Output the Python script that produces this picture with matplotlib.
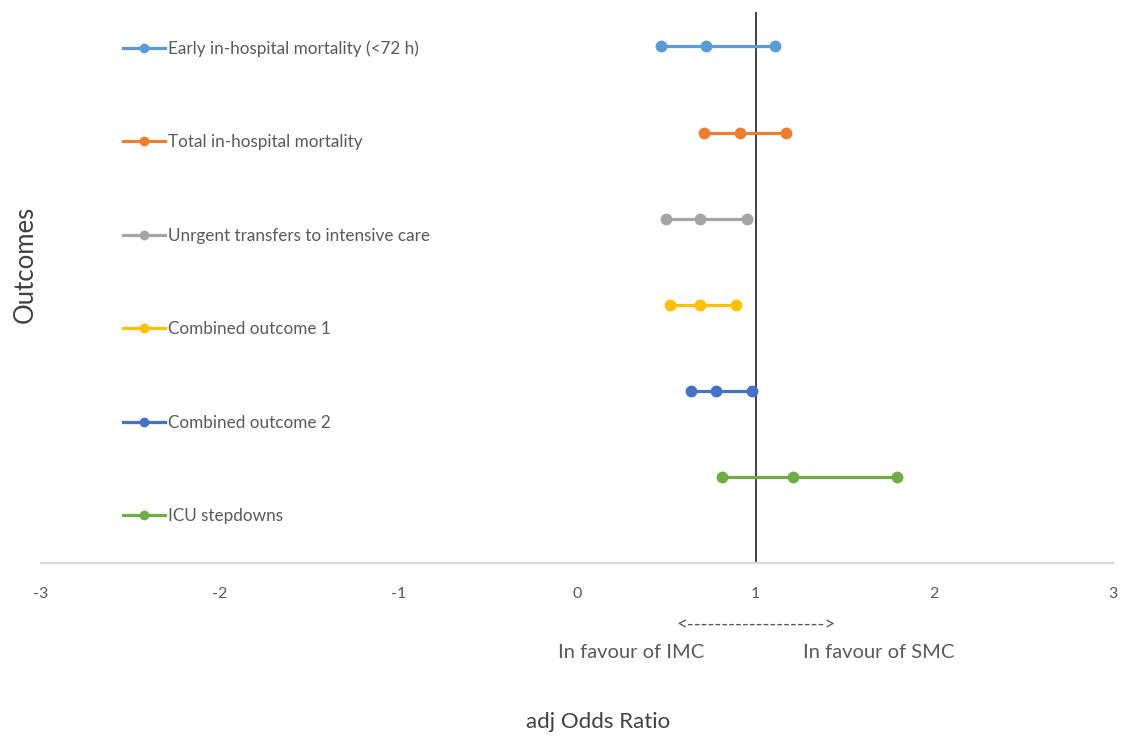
import numpy as np
import matplotlib.pyplot as plt
from matplotlib.lines import Line2D

# forest-style plot of adjusted odds ratios

outcomes = ["Early in-hospital mortality (<72 h)",
            "Total in-hospital mortality",
            "Unrgent transfers to intensive care",
            "Combined outcome 1",
            "Combined outcome 2",
            "ICU stepdowns"]
or_low = [0.47, 0.71, 0.50, 0.52, 0.64, 0.81]
or_adj = [0.72, 0.91, 0.69, 0.69, 0.78, 1.21]
or_high = [1.11, 1.17, 0.95, 0.89, 0.98, 1.79]
colors = ["#5B9BD5", "#ED7D31", "#A5A5A5", "#FFC000", "#4472C4", "#70AD47"]
xticks = [-3, -2, -1, 0, 1, 2, 3]

plt.rcParams['font.family'] = ['Lato', 'DejaVu Sans']
txt_col = "#595959"

fig = plt.figure(figsize=(11.28, 7.4), dpi=100)
ax = fig.add_axes([41/1128, 1 - 563/740, (1113-41)/1128, (563-12)/740])

rows = np.arange(len(outcomes), 0, -1)
handles = []
for i in range(len(outcomes)):
    xs = [or_low[i], or_adj[i], or_high[i]]
    ax.plot(xs, [rows[i]]*3, color=colors[i], lw=2.3, marker='o', ms=7.5,
            solid_capstyle='round', zorder=3)
    handles.append(Line2D([], [], color=colors[i], lw=2.3, marker='o', ms=6))

ax.set_xlim(-3, 3)
ax.set_ylim(0, 6.4)

# vertical axis crossing at OR = 1
ax.axvline(1, color="#404040", lw=1.4, zorder=2)

for s in ['top', 'right', 'left']:
    ax.spines[s].set_visible(False)
ax.spines['bottom'].set_color("#D9D9D9")
ax.spines['bottom'].set_linewidth(1.6)
ax.set_yticks([])
ax.set_xticks(xticks)
ax.set_xticklabels([str(t) for t in xticks])
ax.tick_params(axis='x', length=0, pad=17, labelsize=11.5, labelcolor=txt_col)

fig.legend(handles, outcomes, loc='upper left', bbox_to_anchor=(123/1128, 1 - 40/740),
           frameon=False, fontsize=12.3, labelcolor=txt_col, handlelength=2.46,
           handletextpad=0.2, labelspacing=4.54, borderpad=0, borderaxespad=0)

fig.text(25/1128, 1 - 264/740, "Outcomes", rotation=90, ha='center', va='center',
         fontsize=18.5, color="#404040")
fig.text(598/1128, 1 - 722/740, "adj Odds Ratio", ha='center', va='center',
         fontsize=16, color="#404040")
fig.text(756/1128, 1 - 625/740, "<-------------------->", ha='center', va='center',
         fontsize=13.6, color=txt_col)
fig.text(631/1128, 1 - 652/740, "In favour of IMC", ha='center', va='center',
         fontsize=14.5, color=txt_col)
fig.text(879/1128, 1 - 652/740, "In favour of SMC", ha='center', va='center',
         fontsize=14.5, color=txt_col)

plt.savefig("out.png", dpi=100)
